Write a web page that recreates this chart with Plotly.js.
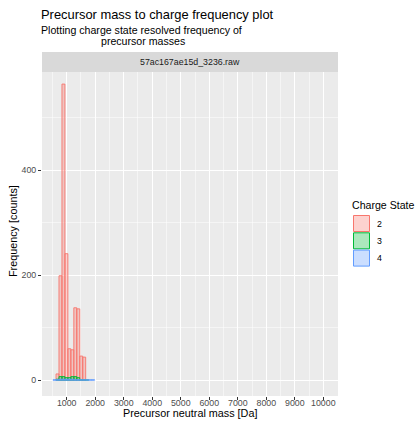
<!DOCTYPE html>
<html>
<head>
<meta charset="utf-8">
<script src="https://cdn.plot.ly/plotly-3.0.1.min.js"></script>
<style>html,body{margin:0;padding:0;background:#fff;}#chart{width:418px;height:421px;}</style>
</head>
<body>
<div id="chart"></div>
<script>
// Histogram bins (Da) shared by all charge states
const binStart = 521;
const binWidth = 104;
// counts per bin (bin i covers binStart + i*binWidth ... + binWidth)
const countsZ2 = [0, 12, 199, 564, 241, 60, 58, 138, 136, 46, 44, 0, 0, 0];
const countsZ3 = [0, 2, 7, 7, 5, 5, 7, 7, 5, 1, 1, 1, 0, 0];
const countsZ4 = [1, 1, 2, 2, 2, 2, 2, 1, 1, 1, 1, 1, 1, 1];
const chargeLabels = ["2", "3", "4"];
const xTicks = [1000, 2000, 3000, 4000, 5000, 6000, 7000, 8000, 9000, 10000];
const yTicks = [0, 200, 400];

const lineCols = ["#F8766D", "#00BA38", "#619CFF"];
const fillCols = ["rgba(248,118,109,0.33)", "rgba(0,186,56,0.33)", "rgba(97,156,255,0.33)"];
const FONT = "Liberation Sans, Arial, Helvetica, sans-serif";

const centers = countsZ2.map((_, i) => binStart + binWidth * (i + 0.5));
const allCounts = [countsZ2, countsZ3, countsZ4];

const traces = allCounts.map((c, k) => {
  const xs = [], ys = [];
  c.forEach((v, i) => { if (v > 0) { xs.push(centers[i]); ys.push(v); } });
  return {
    type: "bar", x: xs, y: ys, width: binWidth, name: chargeLabels[k],
    marker: { color: fillCols[k], line: { color: lineCols[k], width: 0.9 } },
    showlegend: false, hoverinfo: "skip"
  };
});

// pixel -> paper helpers (plot area: x 42..338, y 72..396)
const L = 42, R = 338, T = 72, B = 396;
const px = x => (x - L) / (R - L);
const py = y => (B - y) / (B - T);

function ann(text, x, y, xa, size, extra) {
  return Object.assign({ text: text, xref: "paper", yref: "paper", x: px(x), y: py(y),
    xanchor: xa, yanchor: "middle", showarrow: false, borderpad: 0,
    font: { family: FONT, size: size, color: "#000" } }, extra || {});
}

const shapes = [
  { type: "rect", xref: "paper", yref: "paper", x0: 0, x1: 1, y0: py(72), y1: py(52),
    fillcolor: "#D9D9D9", line: { width: 0 }, layer: "above" }
];
const annotations = [
  ann("Precursor mass to charge frequency plot", 39.5, 14.5, "left", 12.9),
  ann("Plotting charge state resolved frequency of", 39.5, 30, "left", 10.6),
  ann("precursor masses", 143, 41, "center", 10.6),
  ann("57ac167ae15d_3236.raw", 190, 62, "center", 8.8, { font: { family: FONT, size: 8.8, color: "#1A1A1A" } }),
  ann("Precursor neutral mass [Da]", 190, 413, "center", 10.8),
  ann("Frequency [counts]", 13, 231, "center", 10.8, { textangle: -90 }),
  ann("Charge State", 351, 205, "left", 10.6)
];
// legend keys
chargeLabels.forEach((lab, k) => {
  const y0 = 215 + k * 17.3;
  shapes.push({ type: "rect", xref: "paper", yref: "paper",
    x0: px(353.5), x1: px(369.5), y0: py(y0 + 16.5), y1: py(y0 + 0.5),
    fillcolor: fillCols[k], line: { color: lineCols[k], width: 1 } });
  annotations.push(ann(lab, 375.5, y0 + 8.5, "left", 8.8));
});

const layout = {
  width: 418, height: 421,
  margin: { l: L, r: 418 - R, t: T, b: 421 - B, pad: 0 },
  paper_bgcolor: "#FFFFFF", plot_bgcolor: "#EBEBEB",
  barmode: "overlay", bargap: 0,
  showlegend: false,
  xaxis: {
    range: [133, 10516], tickmode: "array", tickvals: xTicks, ticktext: xTicks.map(String),
    showgrid: true, gridcolor: "#FFFFFF", gridwidth: 1.1, zeroline: false, showline: false,
    ticks: "outside", ticklen: 3, tickwidth: 1, tickcolor: "#333333", ticklabelstandoff: -5,
    tickfont: { family: FONT, size: 8.8, color: "#4D4D4D" },
    minor: { dtick: 500, tick0: 500, showgrid: true, gridcolor: "#FFFFFF", gridwidth: 0.5, ticks: "" },
    fixedrange: true
  },
  yaxis: {
    range: [-30, 587], tickmode: "array", tickvals: yTicks, ticktext: yTicks.map(String),
    showgrid: true, gridcolor: "#FFFFFF", gridwidth: 1.1, zeroline: false, showline: false,
    ticks: "outside", ticklen: 3, tickwidth: 1, tickcolor: "#333333",
    tickfont: { family: FONT, size: 8.8, color: "#4D4D4D" },
    minor: { dtick: 100, tick0: 100, showgrid: true, gridcolor: "#FFFFFF", gridwidth: 0.5, ticks: "" },
    fixedrange: true
  },
  shapes: shapes,
  annotations: annotations
};

Plotly.newPlot("chart", traces, layout, { staticPlot: true, displayModeBar: false });
</script>
</body>
</html>
